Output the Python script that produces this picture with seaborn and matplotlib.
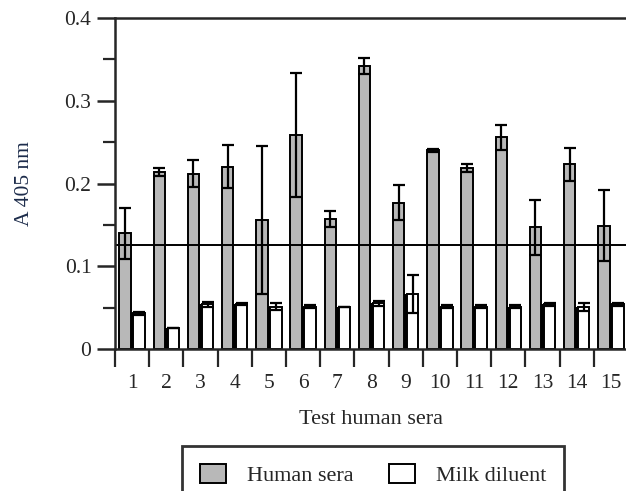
import pandas as pd
import numpy as np
import matplotlib
matplotlib.use('Agg')
import matplotlib.pyplot as plt
import seaborn as sns
from matplotlib.patches import Patch
from matplotlib.ticker import FixedLocator, NullFormatter

# data
sera = [str(i) for i in range(1, 16)]
human_mean = [0.140, 0.214, 0.212, 0.220, 0.156, 0.259, 0.157, 0.342, 0.177, 0.240,
              0.219, 0.256, 0.147, 0.223, 0.149]
human_err = [0.031, 0.005, 0.016, 0.026, 0.089, 0.075, 0.010, 0.010, 0.021, 0.002,
             0.005, 0.015, 0.033, 0.020, 0.043]
milk_mean = [0.043, 0.025, 0.054, 0.054, 0.051, 0.051, 0.051, 0.055, 0.066, 0.051,
             0.051, 0.051, 0.054, 0.051, 0.054]
milk_err = [0.002, 0.0, 0.003, 0.001, 0.004, 0.002, 0.0, 0.003, 0.023, 0.002,
            0.002, 0.002, 0.002, 0.005, 0.002]
cutoff = 0.126
y_ticks = [0, 0.1, 0.2, 0.3, 0.4]
y_labels = ['0', '0.1', '0.2', '0.3', '0.4']

df = pd.DataFrame({
    'serum': sera * 2,
    'A405': human_mean + milk_mean,
    'group': ['Human sera'] * 15 + ['Milk diluent'] * 15,
})

sns.set_style('ticks')
plt.rcParams['font.family'] = ['Liberation Serif', 'DejaVu Serif']

fig = plt.figure(figsize=(6.26, 4.91), dpi=100)
ax = fig.add_axes([0.1837, 0.2892, 0.8195, 0.6741])

sns.barplot(data=df, x='serum', y='A405', hue='group', order=sera,
            palette={'Human sera': '#b8b8b8', 'Milk diluent': 'white'},
            edgecolor='black', linewidth=1.4, width=0.82, gap=0.18,
            errorbar=None, legend=False, ax=ax)

bars = [p for p in ax.patches if p.get_height() > 0]
gray_bars, white_bars = bars[:15], bars[15:]

# dark strip between the pairs, as tall as the milk bar
for g, w in zip(gray_bars, white_bars):
    left = g.get_x() + g.get_width()
    ax.bar(left, w.get_height(), width=w.get_x() - left, align='edge',
           color='black', linewidth=0, zorder=1.5)

for patches, errs in [(gray_bars, human_err), (white_bars, milk_err)]:
    xs = [p.get_x() + p.get_width() / 2 for p in patches]
    ys = [p.get_height() for p in patches]
    ax.errorbar(xs, ys, yerr=errs, fmt='none', ecolor='black',
                elinewidth=1.6, capsize=4, capthick=1.6, zorder=3)

ax.axhline(cutoff, color='black', linewidth=1.4, zorder=2.5)

ax.set_ylim(0, 0.4)
ax.set_xlim(-0.5, 14.5)
ax.set_yticks(y_ticks, labels=y_labels)
ax.set_yticks([0.05, 0.15, 0.25, 0.35], minor=True)
ax.tick_params(axis='y', which='major', length=13, width=1.8, labelsize=15.5, pad=4)
ax.tick_params(axis='y', which='minor', length=9, width=1.6)

# x: ticks at group boundaries, labels at group centres
ax.xaxis.set_major_locator(FixedLocator(np.arange(-0.5, 15, 1.0)))
ax.xaxis.set_major_formatter(NullFormatter())
ax.set_xticks(np.arange(0, 15), labels=sera, minor=True)
ax.tick_params(axis='x', which='major', length=13, width=1.6)
ax.tick_params(axis='x', which='minor', length=0, labelsize=15.5, pad=18)

for side in ['left', 'top', 'bottom']:
    ax.spines[side].set_linewidth(1.8)
ax.spines['right'].set_visible(False)

ax.set_xlabel('Test human sera', fontsize=16, labelpad=12)
ax.set_ylabel('A 405 nm', fontsize=15.5, color='#1c2b4a', labelpad=22)

handles = [Patch(facecolor='#b8b8b8', edgecolor='black', linewidth=1.4, label='Human sera'),
           Patch(facecolor='white', edgecolor='black', linewidth=1.4, label='Milk diluent')]
leg = fig.legend(handles=handles, loc='upper center', bbox_to_anchor=(0.596, 0.0916),
                 borderaxespad=0, ncol=2, fontsize=16, frameon=True, fancybox=False,
                 handlelength=1.17, handleheight=0.95, handletextpad=0.95,
                 columnspacing=1.6, borderpad=0.8)
leg.get_frame().set_edgecolor('black')
leg.get_frame().set_linewidth(2)

fig.savefig('out.png', dpi=100)
